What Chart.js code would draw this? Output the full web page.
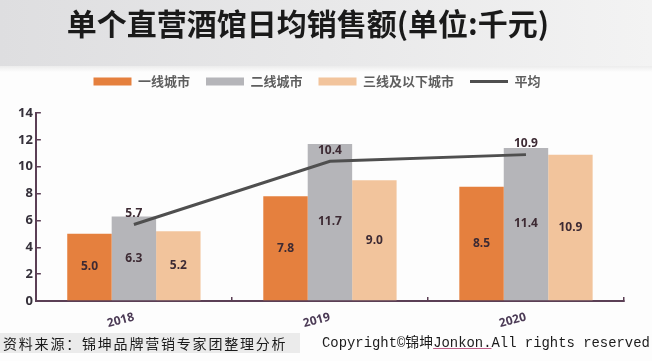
<!DOCTYPE html>
<html>
<head>
<meta charset="utf-8">
<script src="https://cdn.jsdelivr.net/npm/chart.js@4.4.1/dist/chart.umd.min.js"></script>
<style>
  html, body { margin: 0; padding: 0; background: #fff; }
  #wrap { position: relative; width: 652px; height: 361px; overflow: hidden; background: #fdfdfd; }
  #band { position: absolute; left: 0; top: 0; width: 652px; height: 66px;
    background: linear-gradient(to right, #dedee0 0%, #e8e8e9 50%, #f3f3f3 100%); }
  #band::after { content: ""; position: absolute; left: 0; right: 0; bottom: -6px; height: 6px;
    background: linear-gradient(to bottom, #ececec, rgba(253,253,253,0)); }
  #chart { position: absolute; left: 0; top: 0; }
  #srcband { position: absolute; left: 0; top: 333px; width: 300px; height: 20px; background: #ebebeb; }
  .foot { position: absolute; top: 334px; font-size: 14px; line-height: 18px; color: #1b1b1b; white-space: nowrap; }
  #src { left: 3px; font-family: "Noto Sans CJK SC", sans-serif; letter-spacing: 1.8px; }
  #copy { left: 322px; font-family: "Liberation Mono", "Noto Sans CJK SC", monospace; font-size: 13.9px; }
  #copy u { text-decoration-color: #c0608a; }
</style>
</head>
<body>
<div id="wrap">
  <div id="band"></div>
  <div id="srcband"></div>
  <canvas id="chart" width="652" height="361"></canvas>
  <div class="foot" id="src">资料来源：锦坤品牌营销专家团整理分析</div>
  <div class="foot" id="copy">Copyright©锦坤<u>Jonkon.</u>All rights reserved</div>
</div>
<script>
const years = ['2018', '2019', '2020'];
const tier1 = [5.0, 7.8, 8.5];
const tier2 = [6.3, 11.7, 11.4];
const tier3 = [5.2, 9.0, 10.9];
const average = [5.7, 10.4, 10.9];
const yTicks = [0, 2, 4, 6, 8, 10, 12, 14];

const axisColor = '#5b3f55';

// values written inside the bars and above the line points
const valueLabels = {
  id: 'valueLabels',
  afterDatasetsDraw(chart) {
    const ctx = chart.ctx;
    ctx.save();
    ctx.font = 'bold 12px "Noto Sans", sans-serif';
    ctx.textAlign = 'center';
    ctx.textBaseline = 'middle';
    ctx.fillStyle = '#3d2a33';
    chart.data.datasets.forEach((ds, i) => {
      const meta = chart.getDatasetMeta(i);
      meta.data.forEach((el, j) => {
        const txt = ds.data[j].toFixed(1);
        const y = ds.type === 'line' ? el.y - 11 : (el.y + el.base) / 2;
        ctx.fillText(txt, el.x, y);
      });
    });
    ctx.restore();
  }
};

// more room between legend and plot, title sits a little left of centre
const layoutTweaks = {
  id: 'layoutTweaks',
  beforeInit(chart) {
    const fit = chart.legend.fit;
    chart.legend.fit = function () {
      fit.call(this);
      this.height += 15;
    };
  },
  afterLayout(chart) {
    if (chart.titleBlock) chart.titleBlock.right -= 18;
  }
};

new Chart(document.getElementById('chart'), {
  type: 'bar',
  data: {
    labels: years,
    datasets: [
      {
        type: 'line',
        label: '平均',
        data: average,
        borderColor: '#4f4f4f',
        backgroundColor: '#4f4f4f',
        borderWidth: 3,
        pointRadius: 0,
        pointStyle: 'line',
        tension: 0,
        order: 0
      },
      { label: '一线城市', data: tier1, backgroundColor: '#e5803e', pointStyle: 'rect', order: 1 },
      { label: '二线城市', data: tier2, backgroundColor: '#b5b5b9', pointStyle: 'rect', order: 1 },
      { label: '三线及以下城市', data: tier3, backgroundColor: '#f2c49c', pointStyle: 'rect', order: 1 }
    ]
  },
  options: {
    responsive: false,
    animation: false,
    categoryPercentage: 0.68,
    barPercentage: 1.0,
    layout: { padding: { left: 10, right: 28, bottom: 17 } },
    plugins: {
      title: {
        display: true,
        text: '单个直营酒馆日均销售额(单位:千元)',
        color: '#1a1a1a',
        font: { family: '"Noto Sans CJK SC", sans-serif', size: 30, weight: 'bold' },
        padding: { top: 6, bottom: 17 }
      },
      legend: {
        labels: {
          // bars first, the average line last, as in the picture
          sort: (a, b) => (a.datasetIndex === 0 ? 1 : 0) - (b.datasetIndex === 0 ? 1 : 0),
          usePointStyle: true,
          pointStyleWidth: 38,
          boxHeight: 8,
          padding: 16,
          color: '#5e5e5e',
          font: { family: '"Noto Sans CJK SC", sans-serif', size: 13, weight: 'bold' }
        }
      },
      tooltip: { enabled: false }
    },
    scales: {
      x: {
        grid: { drawOnChartArea: false, drawTicks: true, tickLength: -4, color: axisColor, lineWidth: 1.5 },
        border: { color: axisColor, width: 2 },
        ticks: {
          minRotation: 15,
          maxRotation: 15,
          padding: 13,
          color: '#4b3a55',
          font: { family: '"Noto Sans", sans-serif', size: 12, weight: 'bold' }
        }
      },
      y: {
        min: 0,
        max: 14,
        afterBuildTicks: s => { s.ticks = yTicks.map(v => ({ value: v })); },
        grid: { drawOnChartArea: false, drawTicks: true, tickLength: -5, color: axisColor, lineWidth: 1.5 },
        border: { color: axisColor, width: 2 },
        ticks: {
          padding: 8,
          color: '#35303a',
          font: { family: '"Noto Sans", sans-serif', size: 13, weight: 'bold' }
        }
      }
    }
  },
  plugins: [valueLabels, layoutTweaks]
});
</script>
</body>
</html>
